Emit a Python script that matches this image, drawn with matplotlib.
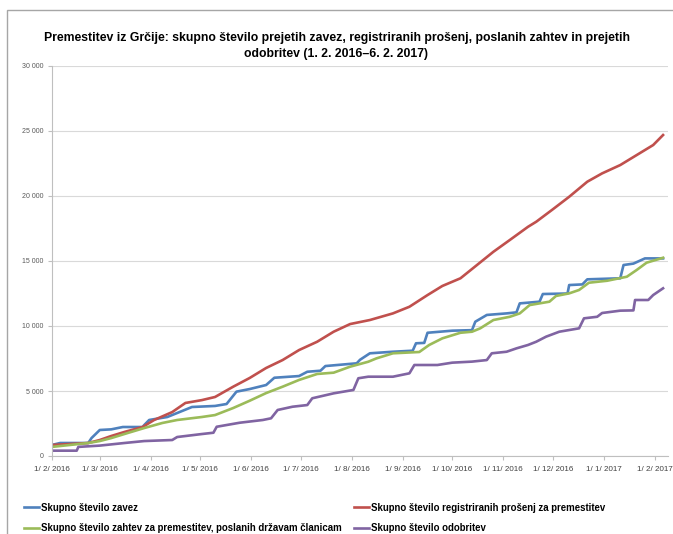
import matplotlib
matplotlib.use("Agg")
import matplotlib.pyplot as plt
import matplotlib.dates as mdates
import matplotlib.ticker as mticker
from matplotlib.patches import Rectangle
import pandas as pd

# Series (date, cumulative count)
zaveze_dates = [
    "2016-02-01", "2016-02-06", "2016-02-23", "2016-02-25", "2016-03-01",
    "2016-03-08", "2016-03-15", "2016-03-27", "2016-03-28", "2016-03-31",
    "2016-04-11", "2016-04-26", "2016-05-10", "2016-05-17", "2016-05-23",
    "2016-05-31", "2016-06-10", "2016-06-15", "2016-06-30", "2016-07-05",
    "2016-07-13", "2016-07-16", "2016-08-04", "2016-08-06", "2016-08-12",
    "2016-08-26", "2016-09-07", "2016-09-09", "2016-09-14", "2016-09-16",
    "2016-10-01", "2016-10-13", "2016-10-15", "2016-10-22", "2016-11-03",
    "2016-11-09", "2016-11-11", "2016-11-23", "2016-11-25", "2016-12-10",
    "2016-12-11", "2016-12-19", "2016-12-22", "2017-01-11", "2017-01-13",
    "2017-01-19", "2017-01-26", "2017-02-06",
]
zaveze = [
    850, 1000, 1000, 1380, 2000,
    2050, 2230, 2230, 2380, 2770,
    3000, 3770, 3850, 4000, 4950,
    5150, 5460, 6020, 6150, 6480,
    6560, 6920, 7130, 7400, 7900,
    8020, 8100, 8670, 8700, 9480,
    9640, 9680, 10330, 10850, 10970,
    11050, 11740, 11870, 12460, 12500,
    13150, 13200, 13590, 13670, 14690,
    14800, 15200, 15200,
]

prosnje_dates = [
    "2016-02-01", "2016-02-23", "2016-03-01", "2016-03-08", "2016-03-16",
    "2016-03-27", "2016-04-03", "2016-04-14", "2016-04-22", "2016-05-02",
    "2016-05-10", "2016-05-21", "2016-05-31", "2016-06-10", "2016-06-20",
    "2016-06-30", "2016-07-11", "2016-07-21", "2016-07-31", "2016-08-12",
    "2016-08-26", "2016-09-05", "2016-09-16", "2016-09-25", "2016-10-06",
    "2016-10-16", "2016-10-26", "2016-11-05", "2016-11-16", "2016-11-21",
    "2016-12-01", "2016-12-11", "2016-12-22", "2016-12-31", "2017-01-11",
    "2017-01-21", "2017-01-31", "2017-02-06",
]
prosnje = [
    850, 1000, 1230, 1540, 1850,
    2230, 2770, 3380, 4080, 4300,
    4540, 5330, 6000, 6770, 7380,
    8150, 8790, 9560, 10150, 10460,
    10970, 11480, 12380, 13080, 13670,
    14690, 15710, 16620, 17630, 18020,
    18970, 19940, 21100, 21740, 22380,
    23150, 23920, 24690,
]

zahteve_dates = [
    "2016-02-01", "2016-02-23", "2016-03-01", "2016-03-08", "2016-03-18",
    "2016-03-28", "2016-04-08", "2016-04-17", "2016-05-02", "2016-05-10",
    "2016-05-21", "2016-05-31", "2016-06-10", "2016-06-20", "2016-06-30",
    "2016-07-11", "2016-07-21", "2016-07-31", "2016-08-11", "2016-08-16",
    "2016-08-26", "2016-09-11", "2016-09-17", "2016-09-25", "2016-10-06",
    "2016-10-13", "2016-10-18", "2016-10-26", "2016-11-05", "2016-11-11",
    "2016-11-17", "2016-11-29", "2016-12-03", "2016-12-11", "2016-12-17",
    "2016-12-23", "2017-01-03", "2017-01-15", "2017-01-21", "2017-01-27",
    "2017-02-06",
]
zahteve = [
    700, 1000, 1150, 1380, 1770,
    2150, 2540, 2770, 3000, 3150,
    3690, 4250, 4840, 5330, 5850,
    6310, 6410, 6870, 7250, 7510,
    7900, 8000, 8540, 9050, 9480,
    9560, 9820, 10460, 10710, 10970,
    11610, 11870, 12310, 12510, 12770,
    13330, 13480, 13790, 14310, 14870,
    15250,
]

odobritve_dates = [
    "2016-02-01", "2016-02-16", "2016-02-17", "2016-03-01", "2016-03-16",
    "2016-03-28", "2016-04-14", "2016-04-17", "2016-05-02", "2016-05-09",
    "2016-05-11", "2016-05-25", "2016-06-08", "2016-06-13", "2016-06-17",
    "2016-06-26", "2016-07-05", "2016-07-08", "2016-07-21", "2016-08-02",
    "2016-08-05", "2016-08-11", "2016-08-26", "2016-09-05", "2016-09-08",
    "2016-09-22", "2016-10-01", "2016-10-13", "2016-10-22", "2016-10-25",
    "2016-11-03", "2016-11-09", "2016-11-16", "2016-11-21", "2016-11-27",
    "2016-12-05", "2016-12-17", "2016-12-20", "2016-12-28", "2016-12-31",
    "2017-01-11", "2017-01-19", "2017-01-20", "2017-01-28", "2017-01-31",
    "2017-02-06",
]
odobritve = [
    410, 410, 700, 800, 1000,
    1150, 1230, 1460, 1690, 1790,
    2250, 2560, 2770, 2900, 3540,
    3790, 3920, 4440, 4820, 5080,
    5980, 6100, 6100, 6360, 7000,
    7000, 7180, 7260, 7380, 7900,
    8020, 8280, 8540, 8790, 9180,
    9560, 9820, 10590, 10710, 11000,
    11180, 11200, 12000, 12000, 12380,
    12900,
]

labels = [
    "Skupno število zavez",
    "Skupno število registriranih prošenj za premestitev",
    "Skupno število zahtev za premestitev, poslanih državam članicam",
    "Skupno število odobritev",
]
colors = ["#4F81BD", "#C0504D", "#9BBB59", "#8064A2"]

title = ("Premestitev iz Grčije: skupno število prejetih zavez, registriranih prošenj, poslanih zahtev in prejetih\n"
         "odobritev (1. 2. 2016–6. 2. 2017)")

plt.rcParams["font.family"] = ["Liberation Sans", "DejaVu Sans"]

fig = plt.figure(figsize=(6.73, 5.34), dpi=100)
ax = fig.add_axes([52 / 673, 1 - 456 / 534, 616 / 673, 390 / 534])

# chart frame
fig.patches.append(Rectangle((7 / 673, -0.1), 1.2, 1 - 10 / 534 + 0.1,
                             transform=fig.transFigure, fill=False,
                             edgecolor="#A6A6A6", linewidth=1))

series = [
    (zaveze_dates, zaveze),
    (prosnje_dates, prosnje),
    (zahteve_dates, zahteve),
    (odobritve_dates, odobritve),
]
lines = []
for (d, v), lab, c in zip(series, labels, colors):
    ln, = ax.plot(pd.to_datetime(d), v, color=c, linewidth=1.9, label=lab,
                  solid_joinstyle="round")
    lines.append(ln)

ax.set_xlim(pd.Timestamp("2016-02-01"), pd.Timestamp("2017-02-09"))
ax.set_ylim(0, 30000)

ax.yaxis.set_major_locator(mticker.MultipleLocator(5000))
ax.yaxis.set_major_formatter(mticker.FuncFormatter(
    lambda v, p: f"{int(v):,}".replace(",", " ")))
ax.xaxis.set_major_locator(mdates.MonthLocator(bymonthday=1))
ax.xaxis.set_major_formatter(mticker.FuncFormatter(
    lambda v, p: "{0.day}/ {0.month}/ {0.year}".format(mdates.num2date(v))))

ax.grid(axis="y", color="#D9D9D9", linewidth=0.8)
ax.set_axisbelow(True)
for s in ["top", "right"]:
    ax.spines[s].set_visible(False)
for s in ["left", "bottom"]:
    ax.spines[s].set_color("#BFBFBF")
    ax.spines[s].set_linewidth(0.8)
ax.tick_params(axis="y", labelsize=5, colors="#BFBFBF", labelcolor="#595959",
               length=3, width=0.8, pad=3)
ax.tick_params(axis="x", labelsize=5.8, colors="#BFBFBF", labelcolor="#404040",
               length=3, width=0.8, pad=4)

fig.text(0.5, 1 - 46 / 534, title, ha="center", va="center",
         fontsize=8.8, fontweight="bold", linespacing=1.45, color="#000000")

# matplotlib fills legend columns first, so order gives rows: blue/red, green/purple
order = [0, 2, 1, 3]
fig.legend(handles=[lines[i] for i in order],
           labels=[labels[i] for i in order],
           loc="upper left", bbox_to_anchor=(15 / 673, 1 - 494 / 534),
           ncol=2, frameon=False, handlelength=1.6,
           handletextpad=0.2, columnspacing=1.3, labelspacing=1.1,
           prop={"weight": "bold", "size": 6.9})

fig.savefig("out.png", dpi=100)
